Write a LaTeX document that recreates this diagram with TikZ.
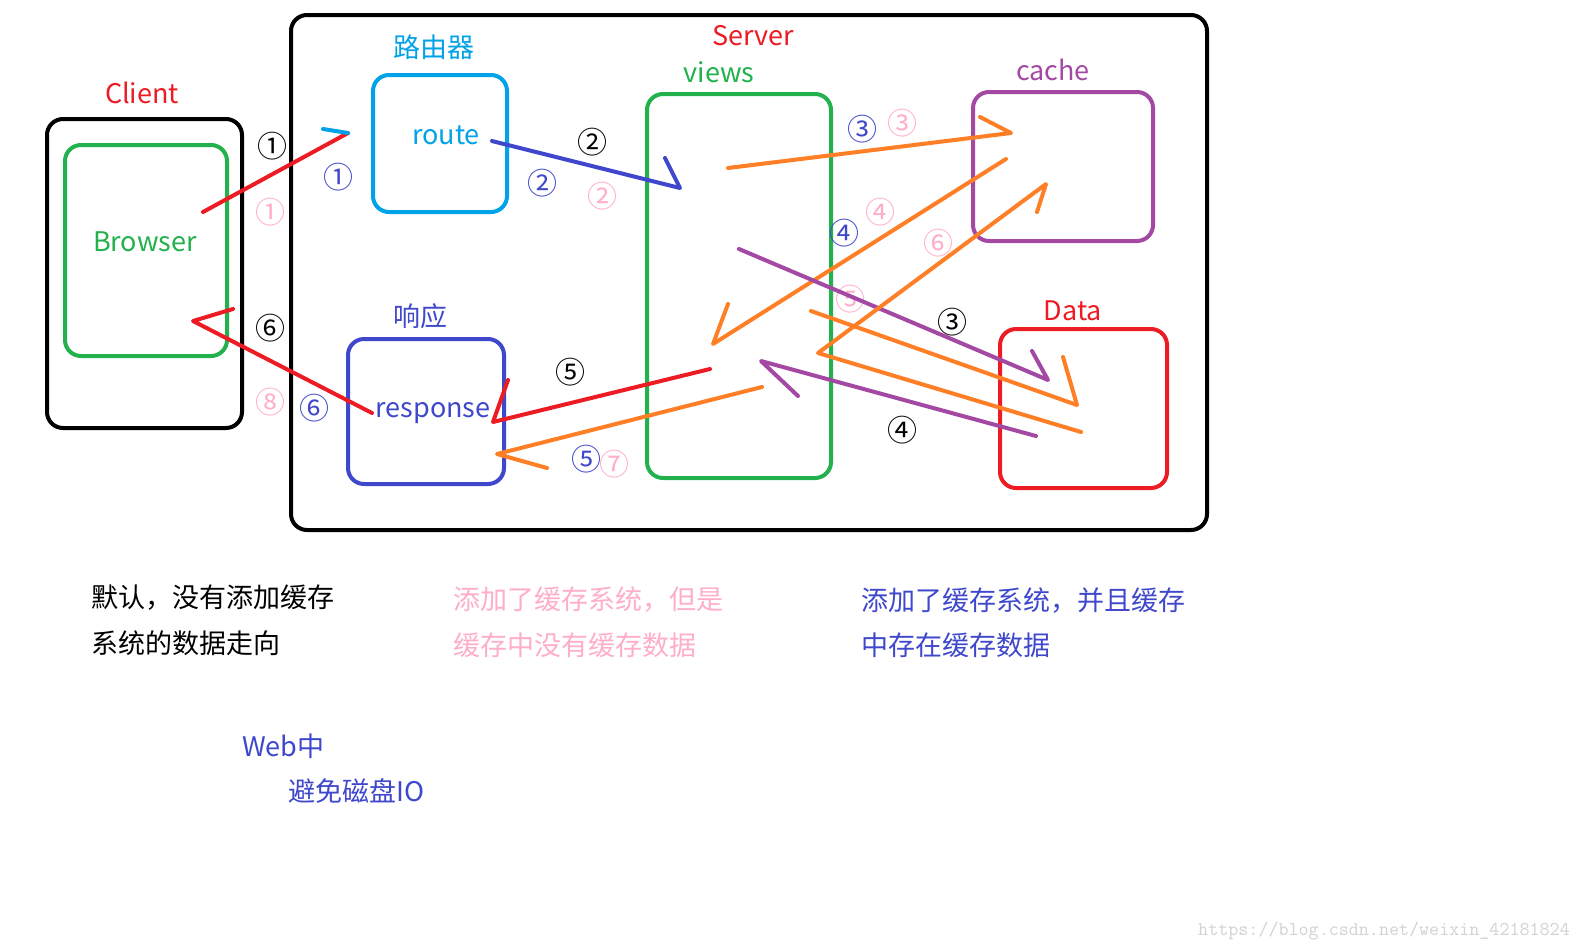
\documentclass[tikz,border=0pt]{standalone}
\usepackage{fontspec}
\setmainfont{Noto Sans CJK SC}
\definecolor{cred}{HTML}{ED1C24}
\definecolor{cgreen}{HTML}{22B14C}
\definecolor{ccyan}{HTML}{00A2E8}
\definecolor{cindigo}{HTML}{3F48CC}
\definecolor{cpurple}{HTML}{A349A4}
\definecolor{corange}{HTML}{FF7F27}
\definecolor{cpink}{HTML}{FFAEC9}
\definecolor{cmark}{HTML}{D2D2D2}
\begin{document}
\begin{tikzpicture}[x=1pt,y=-1pt,
  box/.style={draw=#1, line width=4pt, rounded corners=16pt, inner sep=0pt},
  stroke/.style={draw=#1, line width=4pt, line cap=round, line join=round},
  lbl/.style={text=#1, font=\fontsize{27}{32}\selectfont, inner sep=0pt},
  txt/.style={text=#1, font=\fontsize{27}{32}\selectfont, inner sep=0pt, anchor=west},
  num/.style={text=#1, font=\fontsize{30}{34}\selectfont, inner sep=0pt}]
\useasboundingbox[fill=white] (0,0) rectangle (1581,951);

% boxes
\node[box=black, minimum width=195pt, minimum height=309pt] (client) at (144.5,273.5) {};
\node[box=cgreen, minimum width=162pt, minimum height=211pt] (browser) at (146,250.5) {};
\node[box=black, minimum width=916pt, minimum height=515pt] (server) at (749,272.5) {};
\node[box=ccyan, minimum width=134pt, minimum height=137pt] (route) at (440,143.5) {};
\node[box=cgreen, minimum width=184pt, minimum height=384pt] (views) at (739,286) {};
\node[box=cindigo, minimum width=156pt, minimum height=145pt] (response) at (426,411.5) {};
\node[box=cpurple, minimum width=180pt, minimum height=149pt] (cache) at (1063,166.5) {};
\node[box=cred, minimum width=167pt, minimum height=159pt] (data) at (1083.5,408.5) {};

% labels
\node[lbl=cred] (tclient) at (142,93) {Client};
\node[lbl=cgreen] (tbrowser) at (145,242) {Browser};
\node[lbl=cred] (tserver) at (753,36) {Server};
\node[lbl=cgreen] (tviews) at (719,72) {views};
\node[lbl=ccyan] (trouter) at (434,47) {路由器};
\node[lbl=ccyan] (troute) at (446,135) {route};
\node[lbl=cindigo] (tresp) at (420,316) {响应};
\node[lbl=cindigo] (tresponse) at (433,413) {response};
\node[lbl=cpurple] (tcache) at (1053,70) {cache};
\node[lbl=cred] (tdata) at (1073,311) {Data};

% circled numbers: black
\node[num=black] (b1) at (272,146) {①};
\node[num=black] (b2) at (592,142) {②};
\node[num=black] (b3) at (952,322) {③};
\node[num=black] (b4) at (902,430) {④};
\node[num=black] (b5) at (570,372) {⑤};
\node[num=black] (b6) at (270,328) {⑥};
% indigo
\node[num=cindigo] (i1) at (338,177) {①};
\node[num=cindigo] (i2) at (542,183) {②};
\node[num=cindigo] (i3) at (862,129) {③};
\node[num=cindigo] (i4) at (844,233) {④};
\node[num=cindigo] (i5) at (586,459) {⑤};
\node[num=cindigo] (i6) at (314,408) {⑥};
% pink
\node[num=cpink] (p1) at (270,212) {①};
\node[num=cpink] (p2) at (602,196) {②};
\node[num=cpink] (p3) at (902,123) {③};
\node[num=cpink] (p4) at (880,212) {④};
\node[num=cpink] (p5) at (850,299) {⑤};
\node[num=cpink] (p6) at (938,243) {⑥};
\node[num=cpink] (p7) at (614,464) {⑦};
\node[num=cpink] (p8) at (270,402) {⑧};

% arrow end points
\coordinate (a1s) at (203,212); \coordinate (a1e) at (348,133);
\coordinate (a1h) at (323,129);
\coordinate (a2s) at (492,141); \coordinate (a2e) at (680,188); \coordinate (a2h) at (665,158);
\coordinate (a3s) at (728,168); \coordinate (a3e) at (1011,133); \coordinate (a3h) at (980,117);
\coordinate (a4s) at (1006,159); \coordinate (a4e) at (713,344); \coordinate (a4h) at (728,304);
\coordinate (a5s) at (739,249); \coordinate (a5e) at (1048,380); \coordinate (a5h) at (1032,351);
\coordinate (a6s) at (811,311); \coordinate (a6e) at (1077,405); \coordinate (a6h) at (1063,357);
\coordinate (a7s) at (1036,436); \coordinate (a7e) at (761,361); \coordinate (a7h) at (798,396);
\coordinate (a8s) at (1081,432); \coordinate (a8m) at (818,353); \coordinate (a8e) at (1046,184); \coordinate (a8h) at (1037,212);
\coordinate (a9s) at (710,369); \coordinate (a9e) at (493,422); \coordinate (a9h) at (508,380);
\coordinate (a10s) at (762,387); \coordinate (a10e) at (497,454); \coordinate (a10h) at (547,468);
\coordinate (a11s) at (372,413); \coordinate (a11e) at (193,321); \coordinate (a11h) at (233,309);

% arrows
\draw[stroke=cred] (a1s) -- (a1e);
\draw[stroke=ccyan] (a1h) -- (a1e);
\draw[stroke=cindigo] (a2s) -- (a2e) -- (a2h);
\draw[stroke=corange] (a3s) -- (a3e) -- (a3h);
\draw[stroke=corange] (a4s) -- (a4e) -- (a4h);
\draw[stroke=cpurple] (a5s) -- (a5e) -- (a5h);
\draw[stroke=corange] (a6s) -- (a6e) -- (a6h);
\draw[stroke=cpurple] (a7s) -- (a7e) -- (a7h);
\draw[stroke=corange] (a8s) -- (a8m) -- (a8e) -- (a8h);
\draw[stroke=cred] (a9s) -- (a9e) -- (a9h);
\draw[stroke=corange] (a10s) -- (a10e) -- (a10h);
\draw[stroke=cred] (a11s) -- (a11e) -- (a11h);

% notes
\node[txt=black] (n1a) at (91,598) {默认，没有添加缓存};
\node[txt=black] (n1b) at (91,643) {系统的数据走向};
\node[txt=cpink] (n2a) at (453,600) {添加了缓存系统，但是};
\node[txt=cpink] (n2b) at (453,645) {缓存中没有缓存数据};
\node[txt=cindigo] (n3a) at (861,601) {添加了缓存系统，并且缓存};
\node[txt=cindigo] (n3b) at (861,645) {中存在缓存数据};
\node[txt=cindigo] (n4a) at (242,746) {Web中};
\node[txt=cindigo] (n4b) at (288,791) {避免磁盘IO};

\node[text=cmark, font=\ttfamily\fontsize{19.5}{22}\selectfont, inner sep=0pt, anchor=east] (mark) at (1570,931) {https://blog.csdn.net/weixin\_42181824};
\end{tikzpicture}
\end{document}
